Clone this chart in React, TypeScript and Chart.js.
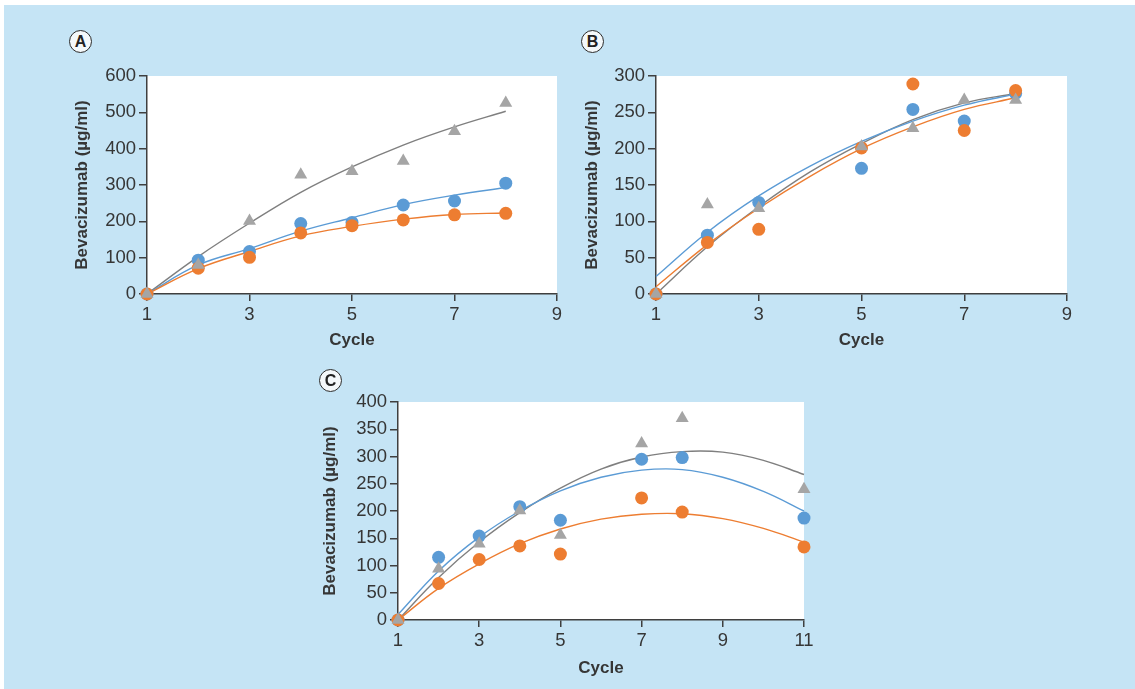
import React, { useEffect, useRef } from 'react';
import { Chart, registerables } from 'chart.js';

Chart.register(...registerables);

// ---------------- DATA ----------------
// Panel A
const cyclesA = [1, 2, 3, 4, 5, 6, 7, 8];
const grayA = [0, 80, 201, 328, 338, 366, 448, 526];
const blueA = [0, 93, 117, 194, 197, 245, 256, 305];
const orangeA = [0, 71, 101, 168, 188, 204, 218, 222];
const fitCyclesA = [1, 2, 3, 4, 5, 6, 7, 8];
const grayFitA = [0, 103, 195, 280, 350, 410, 460, 503];
const blueFitA = [0, 80, 125, 173, 210, 246, 272, 293];
const orangeFitA = [0, 70, 117, 160, 186, 206, 219, 223];
const xTicksA = [1, 3, 5, 7, 9];
const yTicksA = [0, 100, 200, 300, 400, 500, 600];

// Panel B
const cyclesB = [1, 2, 3, 5, 6, 7, 8];
const grayB = [0, 123, 118, 203, 228, 267, 267];
const blueB = [0, 81, 126, 173, 254, 238, 276];
const orangeB = [0, 71, 89, 201, 289, 225, 280];
const fitCyclesB = [1, 2, 3, 4, 5, 6, 7, 8];
const grayFitB = [0, 65, 120, 168, 207, 240, 263, 276];
const blueFitB = [24, 85, 135, 176, 210, 238, 260, 275];
const orangeFitB = [10, 68, 118, 162, 200, 230, 254, 270];
const xTicksB = [1, 3, 5, 7, 9];
const yTicksB = [0, 50, 100, 150, 200, 250, 300];

// Panel C
const cyclesC = [1, 2, 3, 4, 5, 7, 8, 11];
const grayC = [0, 94, 140, 201, 156, 324, 370, 240];
const blueC = [0, 115, 154, 208, 183, 295, 298, 187];
const orangeC = [0, 67, 111, 136, 121, 224, 198, 134];
const fitCyclesC = [1, 2, 3, 4, 5, 6, 7, 8, 9, 10, 11];
const grayFitC = [0, 78, 143, 197, 242, 277, 299, 309, 308, 293, 267];
const blueFitC = [10, 90, 152, 200, 237, 262, 275, 276, 262, 236, 200];
const orangeFitC = [0, 58, 103, 140, 167, 185, 194, 195, 186, 168, 143];
const xTicksC = [1, 3, 5, 7, 9, 11];
const yTicksC = [0, 50, 100, 150, 200, 250, 300, 350, 400];

const yTitle = 'Bevacizumab (µg/ml)';
const xTitle = 'Cycle';

// ---------------- STYLE ----------------
const FONT = "'Liberation Sans', Arial, Helvetica, sans-serif";
const TEXT = '#363636';
const AXIS = '#3f3f3f';
const GRAY = '#a5a5a5';
const BLUE = '#5b9bd5';
const ORANGE = '#ed7d31';
const GRAY_LINE = '#7f7f7f';
const BG = '#c5e4f5';

type Panel = {
  letter: string;
  left: number; top: number; width: number; height: number;
  yAxisWidth: number; xAxisHeight: number; padTop: number; padRight: number;
  yTitlePad: number; xTitlePad: number;
  badgeX: number; badgeY: number;
  cycles: number[]; gray: number[]; blue: number[]; orange: number[];
  fitCycles: number[]; grayFit: number[]; blueFit: number[]; orangeFit: number[];
  xTicks: number[]; yTicks: number[];
};

const panels: Panel[] = [
  {
    letter: 'A', left: 60, top: 60, width: 515, height: 300,
    yAxisWidth: 87, xAxisHeight: 66, padTop: 16, padRight: 18,
    yTitlePad: 12.5, xTitlePad: 9.8, badgeX: 81, badgeY: 42,
    cycles: cyclesA, gray: grayA, blue: blueA, orange: orangeA,
    fitCycles: fitCyclesA, grayFit: grayFitA, blueFit: blueFitA, orangeFit: orangeFitA,
    xTicks: xTicksA, yTicks: yTicksA,
  },
  {
    letter: 'B', left: 570, top: 60, width: 520, height: 300,
    yAxisWidth: 86, xAxisHeight: 66, padTop: 16, padRight: 23,
    yTitlePad: 11.8, xTitlePad: 9.8, badgeX: 593, badgeY: 42,
    cycles: cyclesB, gray: grayB, blue: blueB, orange: orangeB,
    fitCycles: fitCyclesB, grayFit: grayFitB, blueFit: blueFitB, orangeFit: orangeFitB,
    xTicks: xTicksB, yTicks: yTicksB,
  },
  {
    letter: 'C', left: 310, top: 385, width: 520, height: 304,
    yAxisWidth: 88, xAxisHeight: 69, padTop: 17, padRight: 26,
    yTitlePad: 10.5, xTitlePad: 10.5, badgeX: 331, badgeY: 381,
    cycles: cyclesC, gray: grayC, blue: blueC, orange: orangeC,
    fitCycles: fitCyclesC, grayFit: grayFitC, blueFit: blueFitC, orangeFit: orangeFitC,
    xTicks: xTicksC, yTicks: yTicksC,
  },
];

const plotBg = {
  id: 'plotBg',
  beforeDraw(chart: any) {
    const { ctx, chartArea } = chart;
    if (!chartArea) return;
    ctx.save();
    ctx.fillStyle = '#ffffff';
    ctx.fillRect(chartArea.left, chartArea.top, chartArea.right - chartArea.left, chartArea.bottom - chartArea.top);
    ctx.restore();
  },
};

const pts = (xs: number[], ys: number[]) => xs.map((x, i) => ({ x, y: ys[i] }));

function PanelChart({ p }: { p: Panel }) {
  const ref = useRef<HTMLCanvasElement | null>(null);
  useEffect(() => {
    if (!ref.current) return;
    const pointDs = (label: string, data: number[], color: string, style: string, order: number) => ({
      label,
      data: pts(p.cycles, data),
      showLine: false,
      pointStyle: style,
      pointRadius: style === 'triangle' ? 7.5 : 6.5,
      pointBackgroundColor: color,
      pointBorderColor: color,
      pointBorderWidth: 0,
      clip: false,
      order,
    });
    const lineDs = (label: string, data: number[], color: string, order: number) => ({
      label,
      data: pts(p.fitCycles, data),
      showLine: true,
      pointRadius: 0,
      borderColor: color,
      borderWidth: 1.4,
      tension: 0.4,
      fill: false,
      clip: false,
      order,
    });
    const xMin = p.xTicks[0];
    const xMax = p.xTicks[p.xTicks.length - 1];
    const yMin = p.yTicks[0];
    const yMax = p.yTicks[p.yTicks.length - 1];
    const chart = new Chart(ref.current, {
      type: 'scatter',
      data: {
        datasets: [
          pointDs('gray', p.gray, GRAY, 'triangle', 0),
          pointDs('orange', p.orange, ORANGE, 'circle', 1),
          pointDs('blue', p.blue, BLUE, 'circle', 2),
          lineDs('orange fit', p.orangeFit, ORANGE, 3),
          lineDs('blue fit', p.blueFit, BLUE, 4),
          lineDs('gray fit', p.grayFit, GRAY_LINE, 5),
        ] as any,
      },
      options: {
        responsive: false,
        animation: false,
        events: [],
        layout: { padding: { top: p.padTop, right: p.padRight, left: 0, bottom: 0 } },
        plugins: { legend: { display: false }, tooltip: { enabled: false } },
        scales: {
          x: {
            type: 'linear',
            min: xMin,
            max: xMax,
            afterBuildTicks: (s: any) => { s.ticks = p.xTicks.map((v) => ({ value: v })); },
            afterFit: (s: any) => { s.height = p.xAxisHeight; },
            ticks: { color: TEXT, font: { family: FONT, size: 18.5 }, padding: 3, maxRotation: 0 },
            grid: { drawOnChartArea: false, drawTicks: true, tickLength: 7, color: AXIS, lineWidth: 1.5 },
            border: { display: true, color: AXIS, width: 1.5 },
            title: {
              display: true, text: xTitle, color: TEXT,
              font: { family: FONT, size: 17, weight: 'bold' },
              padding: { top: 0, bottom: p.xTitlePad },
            },
          },
          y: {
            type: 'linear',
            min: yMin,
            max: yMax,
            afterBuildTicks: (s: any) => { s.ticks = p.yTicks.map((v) => ({ value: v })); },
            afterFit: (s: any) => { s.width = p.yAxisWidth; },
            ticks: { color: TEXT, font: { family: FONT, size: 18.5 }, padding: 3 },
            grid: { drawOnChartArea: false, drawTicks: true, tickLength: 8, color: AXIS, lineWidth: 1.5 },
            border: { display: true, color: AXIS, width: 1.5 },
            title: {
              display: true, text: yTitle, color: TEXT,
              font: { family: FONT, size: 17, weight: 'bold' },
              padding: { top: p.yTitlePad, bottom: 0 },
            },
          },
        },
      } as any,
      plugins: [plotBg],
    });
    return () => chart.destroy();
  }, [p]);
  return (
    <>
      <canvas
        ref={ref}
        width={p.width}
        height={p.height}
        style={{ position: 'absolute', left: p.left, top: p.top, width: p.width, height: p.height }}
      />
      <div
        style={{
          position: 'absolute',
          left: p.badgeX - 12,
          top: p.badgeY - 12,
          width: 21,
          height: 21,
          border: '1.6px solid #2b2b2b',
          borderRadius: '50%',
          background: '#f4f8fa',
          color: '#222',
          fontFamily: FONT,
          fontWeight: 'bold',
          fontSize: 16,
          lineHeight: '21px',
          textAlign: 'center',
          zIndex: 2,
        }}
      >
        {p.letter}
      </div>
    </>
  );
}

export default function App() {
  return (
    <div style={{ position: 'fixed', left: 0, top: 0, width: 1135, height: 689, background: '#ffffff', overflow: 'hidden' }}>
      <div style={{ position: 'absolute', left: 4, top: 5, width: 1131, height: 684, background: BG }} />
      {panels.map((p) => (
        <PanelChart key={p.letter} p={p} />
      ))}
    </div>
  );
}
